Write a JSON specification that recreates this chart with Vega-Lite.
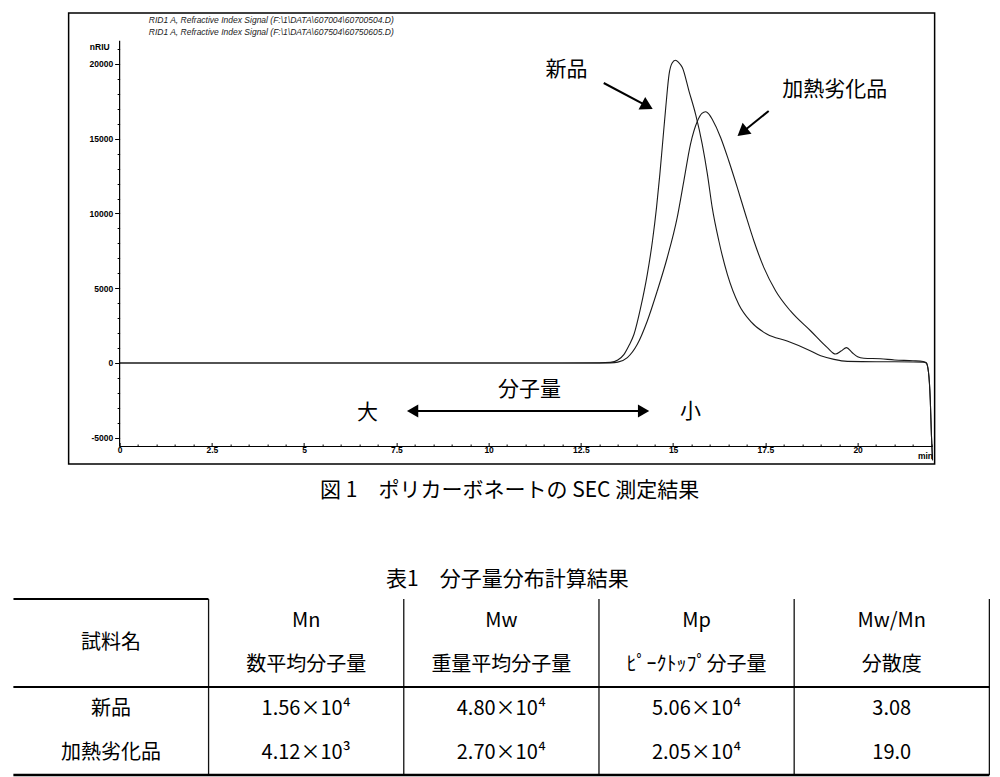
{
  "$schema": "https://vega.github.io/schema/vega-lite/v6.json",
  "padding": {"left": 12, "top": 12, "right": 0, "bottom": 0},
  "background": "white",
  "center": true,
  "spacing": 67,
  "config": {"font": "Noto Sans CJK JP", "view": {"stroke": null}},
  "datasets": {
    "curves": [
      {"t": 0, "s": 0, "sample": "新品"}, {"t": 3, "s": 0, "sample": "新品"}, {"t": 6, "s": 0, "sample": "新品"}, {"t": 9, "s": 0, "sample": "新品"}, {"t": 12, "s": 0, "sample": "新品"},
      {"t": 13.0, "s": 10, "sample": "新品"}, {"t": 13.3, "s": 40, "sample": "新品"}, {"t": 13.5, "s": 200, "sample": "新品"}, {"t": 13.67, "s": 580, "sample": "新品"},
      {"t": 13.8, "s": 1150, "sample": "新品"}, {"t": 13.94, "s": 1920, "sample": "新品"}, {"t": 14.12, "s": 3700, "sample": "新品"}, {"t": 14.3, "s": 5930, "sample": "新品"},
      {"t": 14.44, "s": 8160, "sample": "新品"}, {"t": 14.55, "s": 10390, "sample": "新品"}, {"t": 14.64, "s": 12620, "sample": "新品"}, {"t": 14.72, "s": 14850, "sample": "新品"},
      {"t": 14.8, "s": 17080, "sample": "新品"}, {"t": 14.89, "s": 19310, "sample": "新品"}, {"t": 14.97, "s": 20050, "sample": "新品"}, {"t": 15.06, "s": 20250, "sample": "新品"},
      {"t": 15.15, "s": 20100, "sample": "新品"}, {"t": 15.25, "s": 19760, "sample": "新品"}, {"t": 15.43, "s": 18190, "sample": "新品"}, {"t": 15.61, "s": 16630, "sample": "新品"},
      {"t": 15.79, "s": 14630, "sample": "新品"}, {"t": 15.93, "s": 12620, "sample": "新品"}, {"t": 16.06, "s": 10390, "sample": "新品"}, {"t": 16.24, "s": 8160, "sample": "新品"},
      {"t": 16.47, "s": 5930, "sample": "新品"}, {"t": 16.78, "s": 3920, "sample": "新品"}, {"t": 17.1, "s": 2790, "sample": "新品"}, {"t": 17.55, "s": 1920, "sample": "新品"},
      {"t": 18.09, "s": 1470, "sample": "新品"}, {"t": 18.64, "s": 910, "sample": "新品"}, {"t": 19.0, "s": 480, "sample": "新品"}, {"t": 19.36, "s": 240, "sample": "新品"},
      {"t": 19.72, "s": 110, "sample": "新品"}, {"t": 20.5, "s": 80, "sample": "新品"}, {"t": 21.0, "s": 80, "sample": "新品"}, {"t": 21.5, "s": 70, "sample": "新品"},
      {"t": 21.78, "s": 50, "sample": "新品"}, {"t": 21.86, "s": 0, "sample": "新品"}, {"t": 21.92, "s": -600, "sample": "新品"}, {"t": 21.97, "s": -2500, "sample": "新品"},
      {"t": 22.0, "s": -4800, "sample": "新品"}, {"t": 22.03, "s": -6500, "sample": "新品"},
      {"t": 0, "s": 0, "sample": "加熱劣化品"}, {"t": 3, "s": 0, "sample": "加熱劣化品"}, {"t": 6, "s": 0, "sample": "加熱劣化品"}, {"t": 9, "s": 0, "sample": "加熱劣化品"}, {"t": 12, "s": 0, "sample": "加熱劣化品"},
      {"t": 13.0, "s": 0, "sample": "加熱劣化品"}, {"t": 13.3, "s": 10, "sample": "加熱劣化品"}, {"t": 13.5, "s": 60, "sample": "加熱劣化品"}, {"t": 13.76, "s": 360, "sample": "加熱劣化品"},
      {"t": 14.03, "s": 1250, "sample": "加熱劣化品"}, {"t": 14.3, "s": 2810, "sample": "加熱劣化品"}, {"t": 14.57, "s": 4820, "sample": "加熱劣化品"}, {"t": 14.84, "s": 7040, "sample": "加熱劣化品"},
      {"t": 15.11, "s": 9720, "sample": "加熱劣化品"}, {"t": 15.29, "s": 12170, "sample": "加熱劣化品"}, {"t": 15.47, "s": 14630, "sample": "加熱劣化品"}, {"t": 15.66, "s": 16190, "sample": "加熱劣化品"},
      {"t": 15.78, "s": 16700, "sample": "加熱劣化品"}, {"t": 15.88, "s": 16810, "sample": "加熱劣化品"}, {"t": 16.0, "s": 16550, "sample": "加熱劣化品"}, {"t": 16.06, "s": 16300, "sample": "加熱劣化品"},
      {"t": 16.29, "s": 15070, "sample": "加熱劣化品"}, {"t": 16.51, "s": 13510, "sample": "加熱劣化品"}, {"t": 16.74, "s": 11730, "sample": "加熱劣化品"}, {"t": 16.96, "s": 9950, "sample": "加熱劣化品"},
      {"t": 17.19, "s": 8160, "sample": "加熱劣化品"}, {"t": 17.46, "s": 6380, "sample": "加熱劣化品"}, {"t": 17.78, "s": 4820, "sample": "加熱劣化品"}, {"t": 18.18, "s": 3480, "sample": "加熱劣化品"},
      {"t": 18.73, "s": 2140, "sample": "加熱劣化品"}, {"t": 19.18, "s": 1030, "sample": "加熱劣化品"}, {"t": 19.4, "s": 600, "sample": "加熱劣化品"}, {"t": 19.55, "s": 800, "sample": "加熱劣化品"},
      {"t": 19.7, "s": 1030, "sample": "加熱劣化品"}, {"t": 19.85, "s": 700, "sample": "加熱劣化品"}, {"t": 20.0, "s": 420, "sample": "加熱劣化品"}, {"t": 20.17, "s": 320, "sample": "加熱劣化品"},
      {"t": 20.62, "s": 280, "sample": "加熱劣化品"}, {"t": 21.0, "s": 200, "sample": "加熱劣化品"}, {"t": 21.5, "s": 150, "sample": "加熱劣化品"}, {"t": 21.78, "s": 100, "sample": "加熱劣化品"},
      {"t": 21.86, "s": 20, "sample": "加熱劣化品"}, {"t": 21.92, "s": -600, "sample": "加熱劣化品"}, {"t": 21.97, "s": -2500, "sample": "加熱劣化品"}, {"t": 22.0, "s": -4800, "sample": "加熱劣化品"},
      {"t": 22.03, "s": -6500, "sample": "加熱劣化品"}
    ],
    "table": [
      {"col": "c2", "row": "h1", "text": "Mn"},
      {"col": "c3", "row": "h1", "text": "Mw"},
      {"col": "c4", "row": "h1", "text": "Mp"},
      {"col": "c5", "row": "h1", "text": "Mw/Mn"},
      {"col": "c2", "row": "h2", "text": "数平均分子量"},
      {"col": "c3", "row": "h2", "text": "重量平均分子量"},
      {"col": "c4", "row": "h2", "text": "ﾋﾟｰｸﾄｯﾌﾟ分子量"},
      {"col": "c5", "row": "h2", "text": "分散度"},
      {"col": "c1", "row": "r1", "text": "新品"},
      {"col": "c2", "row": "r1", "text": "1.56×10⁴"},
      {"col": "c3", "row": "r1", "text": "4.80×10⁴"},
      {"col": "c4", "row": "r1", "text": "5.06×10⁴"},
      {"col": "c5", "row": "r1", "text": "3.08"},
      {"col": "c1", "row": "r2", "text": "加熱劣化品"},
      {"col": "c2", "row": "r2", "text": "4.12×10³"},
      {"col": "c3", "row": "r2", "text": "2.70×10⁴"},
      {"col": "c4", "row": "r2", "text": "2.05×10⁴"},
      {"col": "c5", "row": "r2", "text": "19.0"}
    ]
  },
  "vconcat": [
    {
      "width": 866,
      "height": 451,
      "view": {"stroke": "black", "strokeWidth": 1.5},
      "title": {"text": "図 1　ポリカーボネートの SEC 測定結果", "orient": "bottom", "anchor": "middle", "offset": 16, "baseline": "top", "font": "Noto Sans CJK JP", "fontSize": 21, "fontWeight": "normal", "color": "black", "dx": 8},
      "resolve": {"axis": {"x": "independent", "y": "independent"}},
      "layer": [
        {
          "data": {"name": "curves"},
          "mark": {"type": "line", "strokeWidth": 1.1, "color": "#1a1a1a", "clip": true, "interpolate": "monotone"},
          "encoding": {
            "x": {"field": "t", "type": "quantitative",
              "scale": {"domain": [-1.382, 22.087], "nice": false, "zero": false},
              "axis": {"orient": "bottom", "offset": -17.5, "values": [0, 2.5, 5, 7.5, 10, 12.5, 15, 17.5, 20], "labelExpr": "datum.value + ''", "domain": false, "grid": false, "tickSize": -4, "tickColor": "black", "tickWidth": 1, "labelPadding": 3, "labelFont": "Liberation Sans", "labelFontSize": 8.5, "labelFontWeight": "bold", "labelColor": "black", "labelFlush": false, "labelOverlap": false, "title": null}},
            "y": {"field": "s", "type": "quantitative",
              "scale": {"domain": [-6756, 23411], "nice": false, "zero": false},
              "axis": {"orient": "left", "offset": -51, "values": [-5000, 0, 5000, 10000, 15000, 20000], "labelExpr": "datum.value + ''", "domain": false, "grid": false, "tickSize": 5, "tickColor": "black", "tickWidth": 1, "labelPadding": 2, "labelFont": "Liberation Sans", "labelFontSize": 8.5, "labelFontWeight": "bold", "labelColor": "black", "labelFlush": false, "labelOverlap": false, "title": null}},
            "detail": {"field": "sample"}
          }
        },
        {
          "data": {"values": [{}]},
          "mark": {"type": "rule", "strokeWidth": 1.2, "color": "black"},
          "encoding": {
            "x": {"datum": 0, "type": "quantitative",
              "axis": {"orient": "bottom", "offset": -17.5, "values": [0.5, 1, 1.5, 2, 3, 3.5, 4, 4.5, 5.5, 6, 6.5, 7, 8, 8.5, 9, 9.5, 10.5, 11, 11.5, 12, 13, 13.5, 14, 14.5, 15.5, 16, 16.5, 17, 18, 18.5, 19, 19.5, 20.5, 21, 21.5, 22], "labels": false, "domain": false, "grid": false, "tickSize": -2.5, "tickColor": "black", "tickWidth": 1, "title": null}},
            "y": {"datum": -5585, "type": "quantitative",
              "axis": {"orient": "left", "offset": -51, "values": [-4000, -3000, -2000, -1000, 1000, 2000, 3000, 4000, 6000, 7000, 8000, 9000, 11000, 12000, 13000, 14000, 16000, 17000, 18000, 19000, 21000], "labels": false, "domain": false, "grid": false, "tickSize": 2.5, "tickColor": "black", "tickWidth": 1, "title": null}},
            "y2": {"datum": 21550}
          }
        },
        {
          "data": {"values": [{}]},
          "mark": {"type": "rule", "strokeWidth": 1.2, "color": "black"},
          "encoding": {
            "x": {"datum": 0, "type": "quantitative", "axis": null},
            "x2": {"datum": 22.03},
            "y": {"datum": -5585, "type": "quantitative", "axis": null}
          }
        },
        {
          "data": {"values": [{}]},
          "mark": {"type": "text", "text": "RID1 A, Refractive Index Signal (F:\\1\\DATA\\607004\\60700504.D)", "font": "Liberation Sans", "fontStyle": "italic", "fontSize": 8.5, "align": "left", "baseline": "middle", "color": "#222"},
          "encoding": {"x": {"datum": 0.79, "type": "quantitative", "axis": null}, "y": {"datum": 22943, "type": "quantitative", "axis": null}}
        },
        {
          "data": {"values": [{}]},
          "mark": {"type": "text", "text": "RID1 A, Refractive Index Signal (F:\\1\\DATA\\607504\\60750605.D)", "font": "Liberation Sans", "fontStyle": "italic", "fontSize": 8.5, "align": "left", "baseline": "middle", "color": "#222"},
          "encoding": {"x": {"datum": 0.79, "type": "quantitative", "axis": null}, "y": {"datum": 22140, "type": "quantitative", "axis": null}}
        },
        {
          "data": {"values": [{}]},
          "mark": {"type": "text", "text": "nRIU", "font": "Liberation Sans", "fontSize": 8.5, "fontWeight": "bold", "align": "right", "baseline": "middle", "color": "black"},
          "encoding": {"x": {"datum": -0.27, "type": "quantitative", "axis": null}, "y": {"datum": 21137, "type": "quantitative", "axis": null}}
        },
        {
          "data": {"values": [{}]},
          "mark": {"type": "text", "text": "min", "font": "Liberation Sans", "fontSize": 8.5, "fontWeight": "bold", "align": "center", "baseline": "middle", "color": "black"},
          "encoding": {"x": {"datum": 21.84, "type": "quantitative", "axis": null}, "y": {"datum": -6221, "type": "quantitative", "axis": null}}
        },
        {
          "data": {"values": [{}]},
          "mark": {"type": "text", "text": "新品", "fontSize": 21, "align": "center", "baseline": "middle", "color": "black"},
          "encoding": {"x": {"datum": 12.11, "type": "quantitative", "axis": null}, "y": {"datum": 19599, "type": "quantitative", "axis": null}}
        },
        {
          "data": {"values": [{}]},
          "mark": {"type": "text", "text": "加熱劣化品", "fontSize": 21, "align": "center", "baseline": "middle", "color": "black"},
          "encoding": {"x": {"datum": 19.38, "type": "quantitative", "axis": null}, "y": {"datum": 18261, "type": "quantitative", "axis": null}}
        },
        {
          "data": {"values": [{}]},
          "mark": {"type": "text", "text": "分子量", "fontSize": 21, "align": "center", "baseline": "middle", "color": "black"},
          "encoding": {"x": {"datum": 11.11, "type": "quantitative", "axis": null}, "y": {"datum": -1806, "type": "quantitative", "axis": null}}
        },
        {
          "data": {"values": [{}]},
          "mark": {"type": "text", "text": "大", "fontSize": 21, "align": "center", "baseline": "middle", "color": "black"},
          "encoding": {"x": {"datum": 6.72, "type": "quantitative", "axis": null}, "y": {"datum": -3345, "type": "quantitative", "axis": null}}
        },
        {
          "data": {"values": [{}]},
          "mark": {"type": "text", "text": "小", "fontSize": 21, "align": "center", "baseline": "middle", "color": "black"},
          "encoding": {"x": {"datum": 15.47, "type": "quantitative", "axis": null}, "y": {"datum": -3278, "type": "quantitative", "axis": null}}
        },
        {
          "data": {"values": [{}]},
          "mark": {"type": "rule", "strokeWidth": 2, "color": "black"},
          "encoding": {"x": {"datum": 13.12, "type": "quantitative", "axis": null}, "y": {"datum": 18729, "type": "quantitative", "axis": null}, "x2": {"datum": 14.3}, "y2": {"datum": 17177}}
        },
        {
          "data": {"values": [{}]},
          "mark": {"type": "point", "shape": "triangle-right", "angle": 28, "size": 200, "filled": true, "opacity": 1, "color": "black"},
          "encoding": {"x": {"datum": 14.3, "type": "quantitative", "axis": null}, "y": {"datum": 17177, "type": "quantitative", "axis": null}}
        },
        {
          "data": {"values": [{}]},
          "mark": {"type": "rule", "strokeWidth": 2, "color": "black"},
          "encoding": {"x": {"datum": 17.59, "type": "quantitative", "axis": null}, "y": {"datum": 16856, "type": "quantitative", "axis": null}, "x2": {"datum": 16.875}, "y2": {"datum": 15438}}
        },
        {
          "data": {"values": [{}]},
          "mark": {"type": "point", "shape": "triangle-right", "angle": 141, "size": 200, "filled": true, "opacity": 1, "color": "black"},
          "encoding": {"x": {"datum": 16.875, "type": "quantitative", "axis": null}, "y": {"datum": 15438, "type": "quantitative", "axis": null}}
        },
        {
          "data": {"values": [{}]},
          "mark": {"type": "rule", "strokeWidth": 2, "color": "black"},
          "encoding": {"x": {"datum": 7.94, "type": "quantitative", "axis": null}, "y": {"datum": -3211, "type": "quantitative", "axis": null}, "x2": {"datum": 14.2}}
        },
        {
          "data": {"values": [{}]},
          "mark": {"type": "point", "shape": "triangle-left", "size": 170, "filled": true, "opacity": 1, "color": "black"},
          "encoding": {"x": {"datum": 7.94, "type": "quantitative", "axis": null}, "y": {"datum": -3211, "type": "quantitative", "axis": null}}
        },
        {
          "data": {"values": [{}]},
          "mark": {"type": "point", "shape": "triangle-right", "size": 170, "filled": true, "opacity": 1, "color": "black"},
          "encoding": {"x": {"datum": 14.2, "type": "quantitative", "axis": null}, "y": {"datum": -3211, "type": "quantitative", "axis": null}}
        }
      ]
    },
    {
      "width": 976,
      "height": 176,
      "view": {"stroke": null},
      "title": {"text": "表1　分子量分布計算結果", "orient": "top", "anchor": "middle", "offset": 8, "font": "Noto Sans CJK JP", "fontSize": 21, "fontWeight": "normal", "color": "black", "dx": 6},
      "layer": [
        {
          "data": {"name": "table"},
          "mark": {"type": "text", "fontSize": 20, "baseline": "middle", "align": "center", "color": "black"},
          "encoding": {
            "x": {"field": "col", "type": "nominal", "scale": {"type": "band", "domain": ["c1", "c2", "c3", "c4", "c5"], "paddingInner": 0, "paddingOuter": 0}, "axis": null},
            "y": {"field": "row", "type": "nominal", "scale": {"type": "band", "domain": ["h1", "h2", "r1", "r2"], "paddingInner": 0, "paddingOuter": 0}, "axis": null},
            "text": {"field": "text"}
          }
        },
        {
          "data": {"values": [{}]},
          "mark": {"type": "text", "text": "試料名", "fontSize": 20, "baseline": "middle", "align": "center", "color": "black"},
          "encoding": {
            "x": {"datum": "c1", "type": "nominal", "axis": null},
            "y": {"datum": "h2", "type": "nominal", "bandPosition": 0, "axis": null}
          }
        },
        {
          "data": {"name": "table"},
          "transform": [{"filter": "datum.row == 'r1'"}],
          "mark": {"type": "rule", "strokeWidth": 1.3, "color": "#111"},
          "encoding": {"x": {"field": "col", "type": "nominal", "bandPosition": 1, "axis": null}}
        },
        {
          "data": {"values": [{}]},
          "mark": {"type": "rule", "strokeWidth": 2, "color": "black"},
          "encoding": {"y": {"datum": "r1", "type": "nominal", "bandPosition": 0, "axis": null}}
        },
        {
          "data": {"values": [{}]},
          "mark": {"type": "rule", "strokeWidth": 2.5, "color": "black"},
          "encoding": {"y": {"datum": "r2", "type": "nominal", "bandPosition": 1, "axis": null}}
        },
        {
          "data": {"values": [{}]},
          "mark": {"type": "tick", "orient": "horizontal", "size": 195, "thickness": 2, "color": "black", "opacity": 1},
          "encoding": {
            "x": {"datum": "c1", "type": "nominal", "axis": null},
            "y": {"datum": "h1", "type": "nominal", "bandPosition": 0, "axis": null}
          }
        }
      ]
    }
  ]
}
